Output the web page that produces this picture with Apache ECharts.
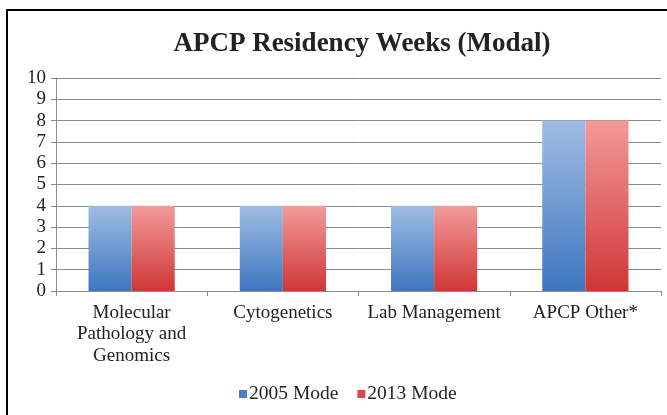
<!DOCTYPE html>
<html><head><meta charset="utf-8">
<script src="https://cdn.jsdelivr.net/npm/echarts@6/dist/echarts.min.js"></script>
<style>
html,body{margin:0;padding:0;background:#fff;}
#frame{position:absolute;left:6px;top:9px;width:700px;height:450px;border-left:2px solid #000;border-top:2px solid #000;}
#c{position:absolute;left:0;top:0;width:667px;height:415px;}
</style></head>
<body>
<div id="frame"></div>
<div id="c"></div>
<script>
const categories = ["Molecular\nPathology and\nGenomics", "Cytogenetics", "Lab Management", "APCP Other*"];
const mode2005 = [4, 4, 4, 8];
const mode2013 = [4, 4, 4, 8];
const seriesNames = ["2005 Mode", "2013 Mode"];

const font = "'Liberation Serif', 'DejaVu Serif', serif";
const blueGrad = new echarts.graphic.LinearGradient(0,0,0,1,[{offset:0,color:'#a0bde2'},{offset:1,color:'#3d76c0'}]);
const redGrad = new echarts.graphic.LinearGradient(0,0,0,1,[{offset:0,color:'#f39a9a'},{offset:1,color:'#cf3636'}]);

const chart = echarts.init(document.getElementById('c'), null, {renderer:'canvas'});
chart.setOption({
  animation:false,
  backgroundColor:'transparent',
  title:{text:'APCP Residency Weeks (Modal)', left:357, textAlign:'center', top:26,
    textStyle:{fontFamily:font, fontWeight:'bold', fontSize:27, color:'#222'}},
  legend:{bottom:6, left:234, itemWidth:8, itemHeight:8, itemGap:19, icon:'rect',
    textStyle:{fontFamily:font, fontSize:19.5, color:'#222', padding:[0,0,0,-3]},
    data:[{name:seriesNames[0], itemStyle:{color:'#4a7fc4'}},{name:seriesNames[1], itemStyle:{color:'#d94848'}}]},
  grid:{left:56, right:6, top:78, bottom:124, containLabel:false},
  xAxis:{type:'category', data:categories,
    axisLine:{lineStyle:{color:'#8c8c8c', width:1}},
    axisTick:{show:true, length:5, lineStyle:{color:'#8c8c8c'}},
    axisLabel:{fontFamily:font, fontSize:19, color:'#222', lineHeight:21.5, margin:11, interval:0}},
  yAxis:{type:'value', min:0, max:10, interval:1,
    axisLine:{show:true, lineStyle:{color:'#8c8c8c'}},
    axisTick:{show:true, length:5, lineStyle:{color:'#8c8c8c'}},
    axisLabel:{fontFamily:font, fontSize:19, color:'#222', margin:10},
    splitLine:{lineStyle:{color:'#8c8c8c', width:1}}},
  series:[
    {name:seriesNames[0], type:'bar', data:mode2005, barGap:'0%', barCategoryGap:'43%', itemStyle:{color:blueGrad}},
    {name:seriesNames[1], type:'bar', data:mode2013, barGap:'0%', barCategoryGap:'43%', itemStyle:{color:redGrad}}
  ]
});
</script>
</body></html>
